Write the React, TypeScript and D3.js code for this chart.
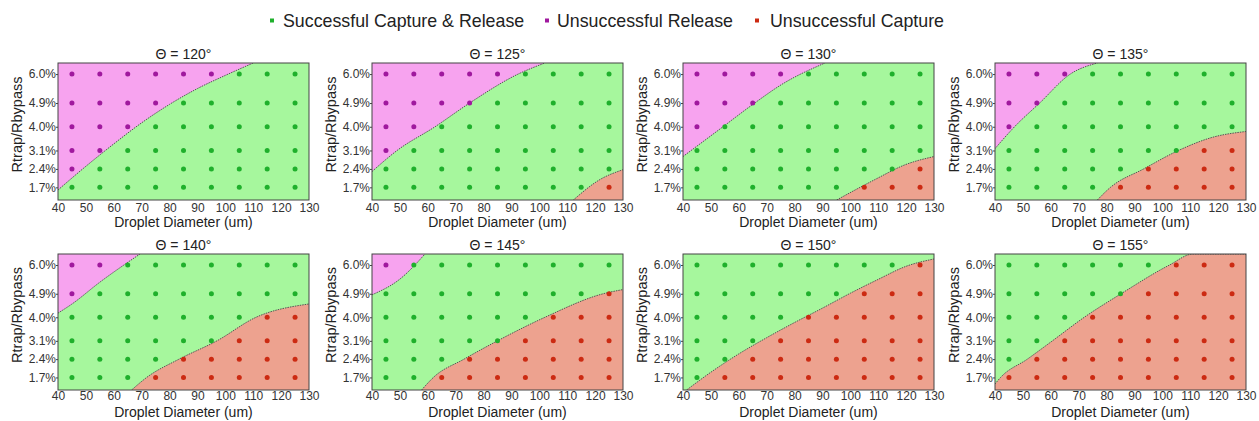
import React, { useEffect, useRef } from 'react';
import * as d3 from 'd3';

// contact angles, one panel each
const angles = [120, 125, 130, 135, 140, 145, 150, 155];
const diameters = [45, 55, 65, 75, 85, 95, 105, 115, 125];
const ratios = [6.0, 4.9, 4.0, 3.1, 2.4, 1.7];
const ratioLabels = ['6.0%', '4.9%', '4.0%', '3.1%', '2.4%', '1.7%'];
const xTicks = [40, 50, 60, 70, 80, 90, 100, 110, 120, 130];

// R = unsuccessful release, S = successful, C = unsuccessful capture
// one string per ratio (6.0% first), one char per diameter
const outcomes120 = ['RRRRRRSSS', 'RRRRSSSSS', 'RRRSSSSSS', 'RRSSSSSSS', 'RSSSSSSSS', 'SSSSSSSSS'];
const outcomes125 = ['RRRRRSSSS', 'RRRRSSSSS', 'RRSSSSSSS', 'RSSSSSSSS', 'SSSSSSSSS', 'SSSSSSSSC'];
const outcomes130 = ['RRRRSSSSS', 'RRRSSSSSS', 'RSSSSSSSS', 'SSSSSSSSS', 'SSSSSSSSC', 'SSSSSSCCC'];
const outcomes135 = ['RRRSSSSSS', 'RRSSSSSSS', 'RSSSSSSSS', 'SSSSSSSCC', 'SSSSSCCCC', 'SSSSCCCCC'];
const outcomes140 = ['RRSSSSSSS', 'RSSSSSSSS', 'SSSSSSSCC', 'SSSSSSCCC', 'SSSSCCCCC', 'SSSCCCCCC'];
const outcomes145 = ['RSSSSSSSS', 'SSSSSSSSC', 'SSSSSSCCC', 'SSSSSCCCC', 'SSSCCCCCC', 'SSCCCCCCC'];
const outcomes150 = ['SSSSSSSSC', 'SSSSSSCCC', 'SSSSCCCCC', 'SSSCCCCCC', 'SSCCCCCCC', 'SCCCCCCCC'];
const outcomes155 = ['SSSSSSCCC', 'SSSSSCCCC', 'SSSCCCCCC', 'SSCCCCCCC', 'SCCCCCCCC', 'CCCCCCCCC'];
const outcomes = [outcomes120, outcomes125, outcomes130, outcomes135, outcomes140, outcomes145, outcomes150, outcomes155];

// boundary curves [diameter, ratio]
const releaseBoundaries: ([number, number][] | null)[] = [
  [[40, 1.6], [50, 2.5], [60, 3.35], [70, 4.15], [80, 4.85], [90, 5.45], [100, 5.95], [110, 6.42]],
  [[40, 2.3], [49, 3.1], [62.6, 4.0], [75, 4.9], [92.4, 6.0], [102, 6.42]],
  [[40, 2.87], [53.7, 3.95], [65.7, 4.9], [75.3, 5.6], [90.9, 6.42]],
  [[40, 3.17], [47, 4.0], [56, 4.9], [67, 6.0], [76.7, 6.42]],
  [[40, 4.16], [44.9, 4.5], [55.1, 5.35], [69.4, 6.42]],
  [[40, 4.86], [50, 5.46], [59, 6.42]],
  null,
  null,
];
const captureBoundaries: ([number, number][] | null)[] = [
  null,
  [[112.2, 1.22], [121.8, 2.0], [130, 2.37]],
  [[95.1, 1.22], [108.9, 2.0], [119.7, 2.56], [130, 2.87]],
  [[76.7, 1.22], [81.4, 1.7], [93.3, 2.4], [105.8, 3.1], [118, 3.6], [130, 3.82]],
  [[66.4, 1.22], [71.8, 1.7], [83.4, 2.4], [97, 3.1], [111, 4.0], [130, 4.51]],
  [[57.8, 1.22], [62, 1.7], [73, 2.4], [85, 3.1], [102, 4.0], [122.9, 4.9], [130, 5.06]],
  [[41.3, 1.22], [50, 1.9], [60, 2.6], [70, 3.22], [80, 3.8], [90, 4.35], [100, 4.92], [110, 5.45], [120, 5.95], [130, 6.23]],
  [[40, 1.45], [42, 1.7], [51.6, 2.4], [60.6, 3.1], [72, 4.0], [85.2, 4.9], [102.6, 6.0], [111, 6.42], [130, 6.42]],
];

const legendLabels = ['Successful Capture & Release', 'Unsuccessful Release', 'Unsuccessful Capture'];
const legendKeys = ['S', 'R', 'C'];

const regionColor = { S: '#a6f79d', R: '#f7a3ef', C: '#eda28f' };
const dotColor = { S: '#1fb02c', R: '#a0189e', C: '#cc2a12' };

const font = '"Liberation Sans", Arial, sans-serif';

const App = () => {
  const svgRef = useRef<SVGSVGElement>(null);

  useEffect(() => {
    const svg = d3.select(svgRef.current);
    svg.selectAll('*').remove();

    const panelLefts = [58, 372, 683, 995];
    const panelTops = [63, 254];
    const plotHs = [137, 136];
    const tickPads = [3, 1];
    const titleOffsets = [27, 27];
    const plotW = 251;

    const x = d3.scaleLinear().domain([40, 130]).range([0, plotW]);

    angles.forEach((angle, i) => {
      const col = i % 4;
      const row = Math.floor(i / 4);
      const plotH = plotHs[row];
      const y = d3.scaleLinear().domain([1.22, 6.42]).range([plotH, 0]);

      const line = d3.line<[number, number]>()
        .x(d => x(d[0]))
        .y(d => y(d[1]))
        .curve(d3.curveMonotoneX);
      const releaseArea = d3.area<[number, number]>()
        .x(d => x(d[0]))
        .y0(0)
        .y1(d => y(d[1]))
        .curve(d3.curveMonotoneX);
      const captureArea = d3.area<[number, number]>()
        .x(d => x(d[0]))
        .y0(plotH)
        .y1(d => y(d[1]))
        .curve(d3.curveMonotoneX);

      const g = svg.append('g')
        .attr('transform', `translate(${panelLefts[col]},${panelTops[row]})`);

      g.append('clipPath').attr('id', `clip-${i}`)
        .append('rect').attr('width', plotW).attr('height', plotH);

      const plot = g.append('g').attr('clip-path', `url(#clip-${i})`);
      plot.append('rect')
        .attr('width', plotW)
        .attr('height', plotH)
        .attr('fill', regionColor.S);

      const rel = releaseBoundaries[i];
      if (rel) {
        plot.append('path').attr('d', releaseArea(rel)).attr('fill', regionColor.R);
        plot.append('path').attr('d', line(rel))
          .attr('fill', 'none').attr('stroke', '#555').attr('stroke-width', 1)
          .attr('stroke-dasharray', '1.5,1');
      }
      const cap = captureBoundaries[i];
      if (cap) {
        plot.append('path').attr('d', captureArea(cap)).attr('fill', regionColor.C);
        plot.append('path').attr('d', line(cap))
          .attr('fill', 'none').attr('stroke', '#555').attr('stroke-width', 1)
          .attr('stroke-dasharray', '1.5,1');
      }

      // dots
      const pts: { d: number; r: number; k: string }[] = [];
      ratios.forEach((r, ri) => {
        diameters.forEach((d, di) => {
          pts.push({ d, r, k: outcomes[i][ri][di] });
        });
      });
      plot.selectAll('circle')
        .data(pts)
        .enter()
        .append('circle')
        .attr('cx', p => x(p.d))
        .attr('cy', p => y(p.r))
        .attr('r', 2.5)
        .attr('fill', p => dotColor[p.k as 'S' | 'R' | 'C']);

      // axes
      const xAxis = g.append('g')
        .attr('transform', `translate(0,${plotH})`)
        .call(d3.axisBottom(x).tickValues(xTicks).tickSize(0).tickPadding(tickPads[row]).tickFormat(d3.format('d')));
      xAxis.select('.domain').remove();
      xAxis.selectAll('text')
        .attr('font-family', font).attr('font-size', 12).attr('fill', '#333');

      const yAxis = g.append('g')
        .call(d3.axisLeft(y).tickValues(ratios).tickSize(2).tickPadding(0)
          .tickFormat((d, j) => ratioLabels[j]));
      yAxis.select('.domain').remove();
      yAxis.selectAll('line').attr('stroke', '#444');
      yAxis.selectAll('text')
        .attr('font-family', font).attr('font-size', 12).attr('fill', '#333');

      g.append('rect')
        .attr('width', plotW)
        .attr('height', plotH)
        .attr('fill', 'none')
        .attr('stroke', '#444')
        .attr('stroke-width', 1);

      g.append('text')
        .attr('x', plotW / 2)
        .attr('y', -4)
        .attr('text-anchor', 'middle')
        .attr('font-family', font)
        .attr('font-size', 14)
        .attr('fill', '#222')
        .text(`\u0398 = ${angle}\u00b0`);

      g.append('text')
        .attr('x', plotW / 2)
        .attr('y', plotH + titleOffsets[row])
        .attr('text-anchor', 'middle')
        .attr('font-family', font)
        .attr('font-size', 14)
        .attr('fill', '#222')
        .text('Droplet Diameter (um)');

      g.append('text')
        .attr('transform', `translate(-36,${plotH / 2 - 7}) rotate(-90)`)
        .attr('text-anchor', 'middle')
        .attr('font-family', font)
        .attr('font-size', 14.5)
        .attr('fill', '#222')
        .text('Rtrap/Rbypass');
    });

    // legend
    const markerX = [272, 547, 757];
    const textX = [283, 557, 770];
    const legend = svg.append('g');
    legendLabels.forEach((label, i) => {
      const k = legendKeys[i] as 'S' | 'R' | 'C';
      legend.append('rect')
        .attr('x', markerX[i] - 2)
        .attr('y', 18.5)
        .attr('width', 4)
        .attr('height', 4)
        .attr('fill', dotColor[k]);
      legend.append('text')
        .attr('x', textX[i])
        .attr('y', 27)
        .attr('font-family', font)
        .attr('font-size', 17.8)
        .attr('fill', '#222')
        .text(label);
    });
  }, []);

  return (
    <svg
      ref={svgRef}
      width={1259}
      height={421}
      style={{ position: 'absolute', left: 0, top: 0, background: '#fff' }}
    />
  );
};

export default App;
